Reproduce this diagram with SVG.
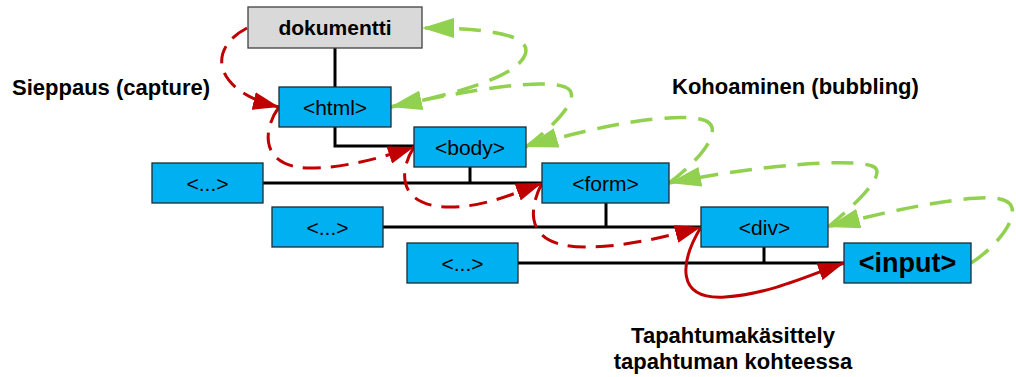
<svg xmlns="http://www.w3.org/2000/svg" width="1016" height="377" viewBox="0 0 1016 377">
  <style>
    .box { fill: #00b0f0; stroke: #1f2a30; stroke-width: 1.3; }
    .root { fill: #d9d9d9; stroke: #404040; stroke-width: 1.3; }
    .lbl { font-family: "Liberation Sans", Arial, sans-serif; font-size: 21px; fill: #000; text-anchor: middle; }
    .bold { font-weight: bold; }
    .title { font-family: "Liberation Sans", Arial, sans-serif; font-size: 22px; font-weight: bold; fill: #000; }
    .tree { fill: none; stroke: #000; stroke-width: 3; }
    .cap { fill: none; stroke: #c00000; stroke-width: 3; stroke-dasharray: 18 10; marker-end: url(#redHead); }
    .capSolid { fill: none; stroke: #c00000; stroke-width: 3; marker-end: url(#redHead); }
    .bub { fill: none; stroke: #92d050; stroke-width: 3.5; stroke-dasharray: 22 12; marker-end: url(#greenHead); }
  </style>
  <defs>
    <marker id="redHead" markerUnits="userSpaceOnUse" viewBox="0 0 26 18" markerWidth="26" markerHeight="18" refX="26" refY="9" orient="auto">
      <path d="M0,0 L26,9 L0,18 z" fill="#c00000"/>
    </marker>
    <marker id="greenHead" markerUnits="userSpaceOnUse" viewBox="0 0 32 20" markerWidth="32" markerHeight="20" refX="32" refY="10" orient="auto">
      <path d="M0,0 L32,10 L0,20 z" fill="#92d050"/>
    </marker>
  </defs>

  <!-- tree lines between elements -->
  <g id="connectors">
    <path class="tree" d="M335,48 V87"/>
    <path class="tree" d="M335,127 V146 H414"/>
    <path class="tree" d="M470,167 V183"/>
    <path class="tree" d="M263,183 H542"/>
    <path class="tree" d="M606,203 V227"/>
    <path class="tree" d="M383,227 H701"/>
    <path class="tree" d="M764,247 V263"/>
    <path class="tree" d="M518,263 H844"/>

    <!-- capture phase -->
    <path class="cap" d="M247,28 C205,50 215,92 279,107"/>
    <path class="cap" d="M279,107 C262,130 260,168 310,168 C345,168 380,158 414,147"/>
    <path class="cap" d="M414,147 C398,172 398,207 450,207 C485,207 515,193 542,183"/>
    <path class="cap" d="M542,183 C527,212 526,247 585,247 C625,247 665,237 701,227"/>
    <path class="capSolid" d="M701,227 C680,262 675,300 725,297 C770,294 810,275 844,263"/>

    <!-- bubbling phase -->
    <path class="bub" d="M971,263 C1000,245 1030,205 1000,199 C975,193 890,210 828,227"/>
    <path class="bub" d="M828,227 C855,205 890,172 872,166 C850,158 760,165 669,183"/>
    <path class="bub" d="M669,183 C700,160 730,125 700,119 C670,113 600,125 526,147"/>
    <path class="bub" d="M526,147 C555,125 585,95 565,87 C540,78 470,90 390,107"/>
    <path class="bub" d="M391,107 C440,97 515,80 525,55 C533,35 490,28 422,28"/>
  </g>

  <g id="dokumentti">
    <rect class="root" x="248" y="7" width="174" height="41"/>
    <text class="lbl bold" x="335" y="35">dokumentti</text>
  </g>
  <g id="html">
    <rect class="box" x="279" y="87" width="112" height="40"/>
    <text class="lbl" x="335" y="114.5">&lt;html&gt;</text>
  </g>
  <g id="body">
    <rect class="box" x="414" y="127" width="112" height="40"/>
    <text class="lbl" x="470" y="154.5">&lt;body&gt;</text>
  </g>
  <g id="form">
    <rect class="box" x="542" y="163" width="127" height="40"/>
    <text class="lbl" x="605.5" y="190.5">&lt;form&gt;</text>
  </g>
  <g id="div">
    <rect class="box" x="701" y="207" width="127" height="40"/>
    <text class="lbl" x="764.5" y="234.5">&lt;div&gt;</text>
  </g>
  <g id="input">
    <rect class="box" x="844" y="243" width="127" height="40"/>
    <text class="lbl bold" x="907.5" y="272" style="font-size:27px">&lt;input&gt;</text>
  </g>
  <g id="other1">
    <rect class="box" x="152" y="163" width="111" height="40"/>
    <text class="lbl" x="207.5" y="190.5">&lt;...&gt;</text>
  </g>
  <g id="other2">
    <rect class="box" x="272" y="207" width="111" height="40"/>
    <text class="lbl" x="327.5" y="234.5">&lt;...&gt;</text>
  </g>
  <g id="other3">
    <rect class="box" x="407" y="243" width="111" height="40"/>
    <text class="lbl" x="462.5" y="270.5">&lt;...&gt;</text>
  </g>

  <g id="labels">
    <text class="title" x="12" y="95">Sieppaus (capture)</text>
    <text class="title" x="672" y="94">Kohoaminen (bubbling)</text>
    <text class="title" x="733" y="343" text-anchor="middle">Tapahtumakäsittely</text>
    <text class="title" x="733" y="369" text-anchor="middle">tapahtuman kohteessa</text>
  </g>
</svg>
